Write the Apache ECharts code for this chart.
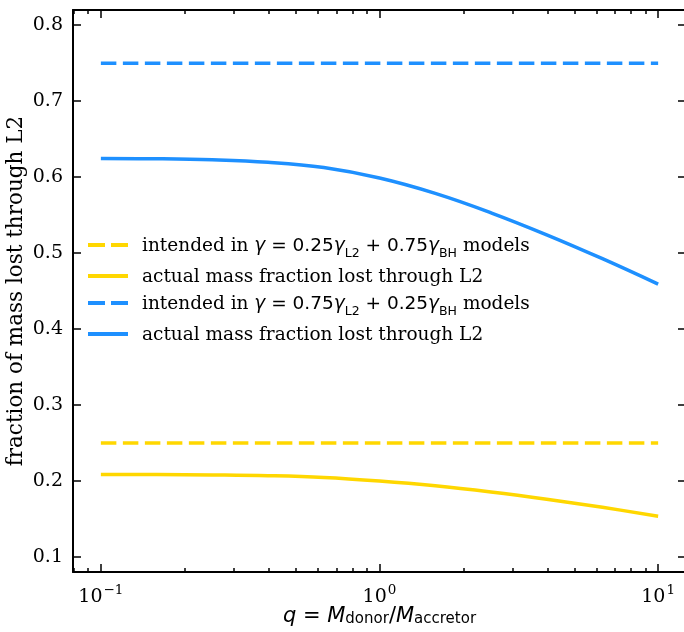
<!DOCTYPE html>
<html>
<head>
<meta charset="utf-8">
<script src="https://cdn.jsdelivr.net/npm/echarts@6/dist/echarts.min.js"></script>
<style>html,body{margin:0;padding:0;background:#fff}#c{width:684px;height:632px}</style>
</head>
<body>
<div id="c"></div>
<script>
// ---- data ----
const qValues = [0.1, 0.1585, 0.2512, 0.3981, 0.631, 1, 1.585, 2.512, 3.981, 6.31, 10];
const blueActual = [0.6244, 0.6241, 0.6228, 0.6195, 0.6125, 0.5987, 0.5785, 0.5530, 0.5240, 0.4925, 0.4590];
const yellowActual = [0.2085, 0.2083, 0.2078, 0.2068, 0.2045, 0.1998, 0.1935, 0.1853, 0.1758, 0.1652, 0.1535];
const qIntended = [0.1, 10];
const blueIntended = [0.75, 0.75];
const yellowIntended = [0.25, 0.25];
const xMajorTicks = [0.1, 1, 10];
const xMinorTicks = [0.08, 0.09, 0.2, 0.3, 0.4, 0.5, 0.6, 0.7, 0.8, 0.9, 2, 3, 4, 5, 6, 7, 8, 9];
const yTicks = [0.1, 0.2, 0.3, 0.4, 0.5, 0.6, 0.7, 0.8];
const xTickExp = {'0.1': '−1', '1': '0', '10': '1'};

const pair = (xs, ys) => xs.map((x, i) => [x, ys[i]]);

const BLUE = '#1E90FF', GOLD = '#FFD700';
const SERIF = 'DejaVu Serif';
const SANS = 'DejaVu Sans';
const XMIN = Math.pow(10, -1.1), XMAX = Math.pow(10, 1.1);
const YMIN = 0.08, YMAX = 0.82;

const ICON_DASH = 'path://M0,0h17v4h-17z M23,0h17v4h-17z';
const ICON_SOLID = 'path://M0,0h40v4h-40z';

const legendText = {
  yi: '{s|intended in }{i|γ}{m| = 0.25}{i|γ}{sub|L2}{m| + 0.75}{i|γ}{sub|BH}{s| models}',
  ya: '{s|actual mass fraction lost through L2}',
  bi: '{s|intended in }{i|γ}{m| = 0.75}{i|γ}{sub|L2}{m| + 0.25}{i|γ}{sub|BH}{s| models}',
  ba: '{s|actual mass fraction lost through L2}'
};

const chart = echarts.init(document.getElementById('c'), null, {renderer: 'canvas'});

function xAxisDef(pos, ticks, len, showLabel, showLine) {
  return {
    type: 'log', logBase: 10, position: pos, min: XMIN, max: XMAX,
    gridIndex: 0,
    splitLine: {show: false}, minorTick: {show: false}, minorSplitLine: {show: false},
    axisLine: {show: showLine, lineStyle: {color: '#000', width: 2}},
    axisTick: {show: true, inside: true, length: len, customValues: ticks, lineStyle: {color: '#000', width: 1.5}},
    axisLabel: showLabel ? {
      show: true, customValues: xMajorTicks, margin: 11,
      formatter: v => {
        const k = String(+v.toPrecision(3));
        return '{b|10}{e|' + (xTickExp[k] || '') + '}';
      },
      rich: {
        b: {fontFamily: SERIF, fontSize: 19, color: '#000', lineHeight: 24, verticalAlign: 'bottom'},
        e: {fontFamily: SERIF, fontSize: 13.5, color: '#000', lineHeight: 24, verticalAlign: 'top', padding: [0, 0, 0, 1]}
      }
    } : {show: false},
    name: showLabel ? '{i|q}{m| = }{i|M}{sub|donor}{m|/}{i|M}{sub|accretor}' : '',
    nameLocation: 'middle', nameGap: 34, nameMoveOverlap: false,
    nameTextStyle: {
      rich: {
        i: {fontFamily: SANS, fontStyle: 'italic', fontSize: 21, color: '#000', lineHeight: 21, verticalAlign: 'middle'},
        m: {fontFamily: SANS, fontSize: 21, color: '#000', lineHeight: 21, verticalAlign: 'middle'},
        sub: {fontFamily: SANS, fontSize: 15, color: '#000', lineHeight: 12, verticalAlign: 'bottom'}
      }
    }
  };
}

function yAxisDef(pos, showLabel) {
  return {
    type: 'value', position: pos, min: YMIN, max: YMAX, gridIndex: 0,
    splitLine: {show: false},
    axisLine: {show: true, lineStyle: {color: '#000', width: 2}},
    axisTick: {show: true, inside: true, length: 8, customValues: yTicks, lineStyle: {color: '#000', width: 1.5}},
    axisLabel: showLabel ? {
      show: true, customValues: yTicks, margin: 10,
      fontFamily: SERIF, fontSize: 19, color: '#000',
      formatter: v => (+v).toFixed(1)
    } : {show: false},
    name: showLabel ? 'fraction of mass lost through L2' : '',
    nameLocation: 'middle', nameGap: 46, nameRotate: 90, nameMoveOverlap: false,
    nameTextStyle: {fontFamily: SERIF, fontSize: 21.5, color: '#000'}
  };
}

const option = {
  backgroundColor: '#fff',
  animation: false,
  grid: {left: 73, top: 10, width: 613, height: 562, containLabel: false, outerBoundsMode: 'none'},
  xAxis: [
    xAxisDef('bottom', xMajorTicks, 8, true, true),
    xAxisDef('bottom', xMinorTicks, 4, false, false),
    xAxisDef('top', xMajorTicks, 8, false, true),
    xAxisDef('top', xMinorTicks, 4, false, false)
  ],
  yAxis: [yAxisDef('left', true), yAxisDef('right', false)],
  legend: {
    orient: 'vertical', left: 83, top: 232,
    data: [
      {name: 'yi', icon: ICON_DASH},
      {name: 'ya', icon: ICON_SOLID},
      {name: 'bi', icon: ICON_DASH},
      {name: 'ba', icon: ICON_SOLID}
    ],
    itemWidth: 40, itemHeight: 4, itemGap: 8,
    itemStyle: {borderWidth: 0},
    formatter: n => legendText[n],
    textStyle: {
      padding: [0, 0, 0, 9],
      rich: {
        s: {fontFamily: SERIF, fontSize: 18.5, color: '#000', lineHeight: 22, verticalAlign: 'bottom'},
        i: {fontFamily: SANS, fontStyle: 'italic', fontSize: 18.5, color: '#000', lineHeight: 22, verticalAlign: 'bottom'},
        m: {fontFamily: SANS, fontSize: 18.5, color: '#000', lineHeight: 22, verticalAlign: 'bottom'},
        sub: {fontFamily: SANS, fontSize: 12.5, color: '#000', lineHeight: 22, verticalAlign: 'bottom', padding: [0, 0, -4, 0]}
      }
    }
  },
  series: [
    {name: 'yi', type: 'line', data: pair(qIntended, yellowIntended), showSymbol: false, symbol: 'none',
     lineStyle: {color: GOLD, width: 3.5, type: [15.5, 6.5]}, itemStyle: {color: GOLD}},
    {name: 'ya', type: 'line', data: pair(qValues, yellowActual), smooth: 0.4, showSymbol: false, symbol: 'none',
     lineStyle: {color: GOLD, width: 3.5}, itemStyle: {color: GOLD}},
    {name: 'bi', type: 'line', data: pair(qIntended, blueIntended), showSymbol: false, symbol: 'none',
     lineStyle: {color: BLUE, width: 3.5, type: [15.5, 6.5]}, itemStyle: {color: BLUE}},
    {name: 'ba', type: 'line', data: pair(qValues, blueActual), smooth: 0.4, showSymbol: false, symbol: 'none',
     lineStyle: {color: BLUE, width: 3.5}, itemStyle: {color: BLUE}}
  ]
};
chart.setOption(option);
</script>
</body>
</html>
